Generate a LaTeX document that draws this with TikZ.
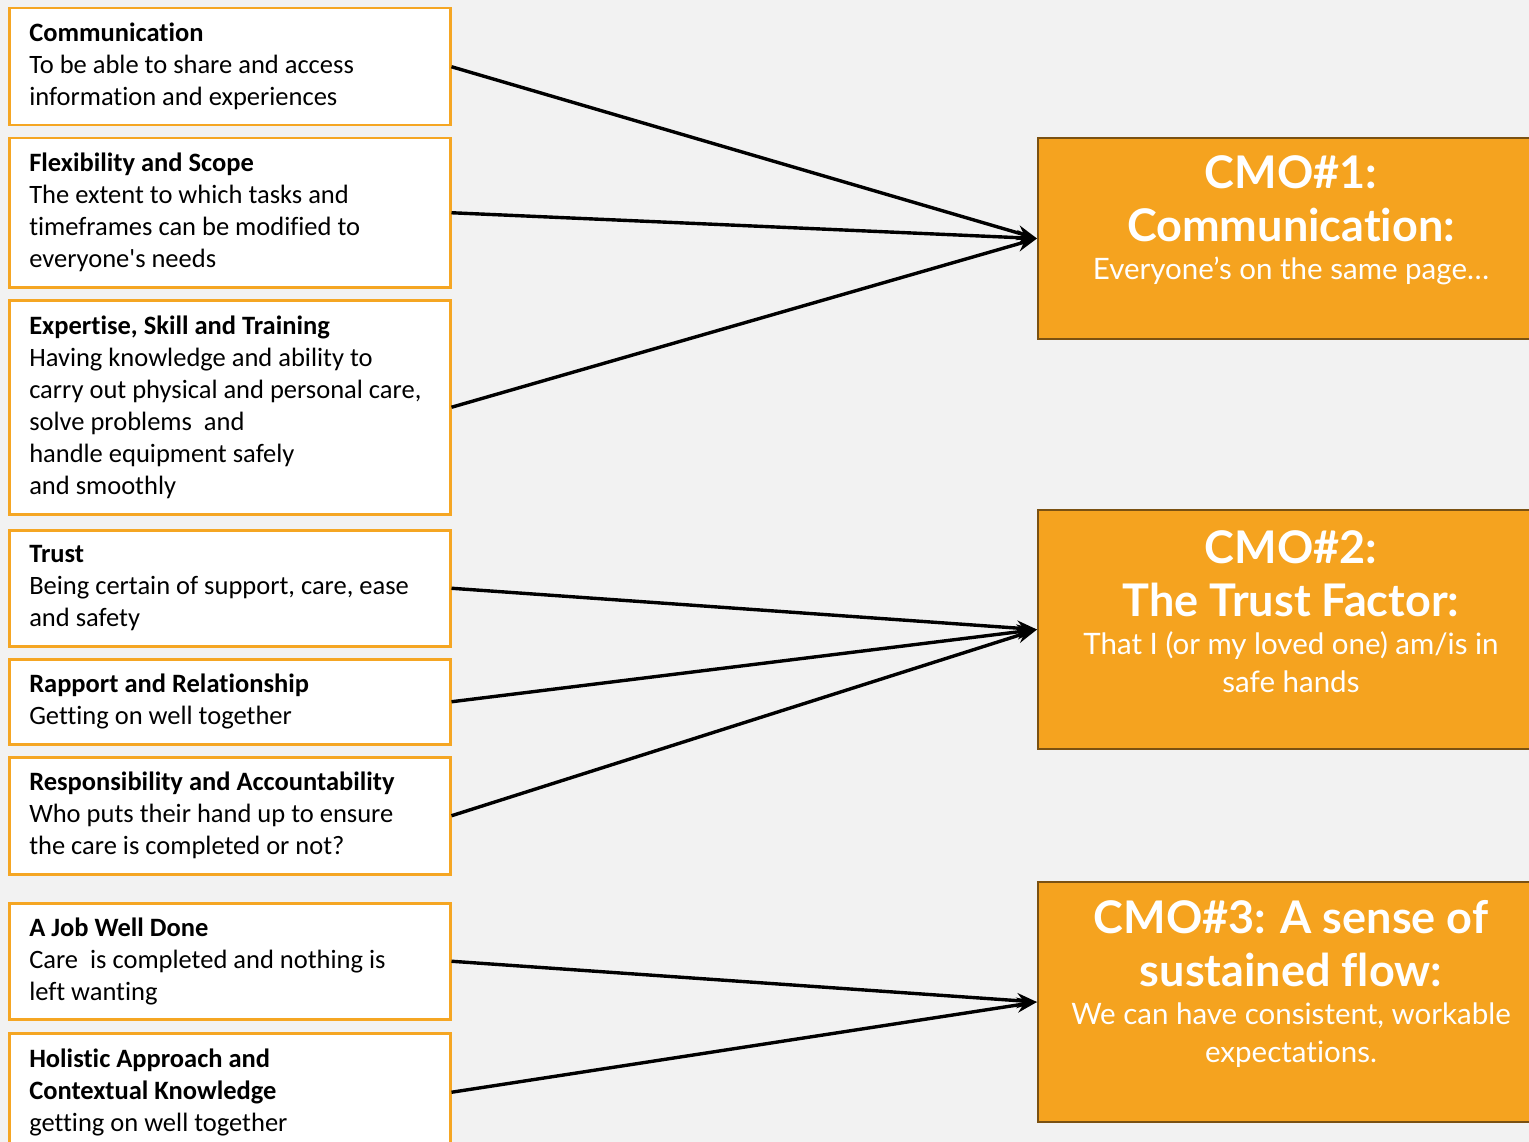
\documentclass[tikz,border=0pt]{standalone}
\usepackage{fontspec}
\setmainfont{Carlito}[Ligatures={NoCommon}]
\newfontfamily\cmofont{Lato}[Ligatures={NoCommon}]
\usetikzlibrary{arrows.meta}
\definecolor{pagebg}{HTML}{F2F2F2}
\definecolor{factorline}{HTML}{F5A623}
\definecolor{cmofill}{HTML}{F5A31F}
\definecolor{cmoline}{HTML}{7A5112}
\newcommand\cmosub{\mdseries\fontsize{29.5}{38}\selectfont}
\begin{document}
\begin{tikzpicture}[x=1pt,y=-1pt,
  factor/.style={draw=factorline, line width=2.5pt, fill=white, anchor=north west,
    minimum width=441pt, text width=401pt, inner xsep=20pt, inner ysep=0pt,
    font=\fontsize{26.5}{32}\selectfont,
    execute at begin node={\raggedright\spaceskip=0pt\xspaceskip=0pt}},
  cmobox/.style={draw=cmoline, line width=2pt, fill=cmofill, anchor=north west,
    minimum width=506pt},
  cmotext/.style={text=white, text width=490pt,
    font=\cmofont\fontsize{45}{53}\selectfont\bfseries,
    execute at begin node={\centering\spaceskip=0pt\xspaceskip=0pt}},
  conn/.style={line width=3.4pt, -{Stealth[length=20pt,width=15pt]}}]
\useasboundingbox (0,0) rectangle (1529,1142);
\fill[pagebg] (0,0) rectangle (1529,1142);
\clip (0,0) rectangle (1529,1142);

% contributing factors
\node[factor, minimum height=117pt] (b1) at (8,7)
  {\textbf{Communication}\\To be able to share and access\\information and experiences};
\node[factor, minimum height=149pt] (b2) at (8,137)
  {\textbf{Flexibility and Scope}\\The extent to which tasks and\\timeframes can be modified to\\everyone\textquotesingle s needs};
\node[factor, minimum height=214pt] (b3) at (8,299)
  {\textbf{Expertise, Skill and Training}\\Having knowledge and ability to\\carry out physical and personal care,\\solve problems~ and\\handle equipment safely\\and smoothly};
\node[factor, minimum height=116pt] (b4) at (8,529)
  {\textbf{Trust}\\Being certain of support, care, ease\\and safety};
\node[factor, minimum height=85pt] (b5) at (8,658)
  {\textbf{Rapport and Relationship}\\Getting on well together};
\node[factor, minimum height=117pt] (b6) at (8,756)
  {\textbf{Responsibility and Accountability}\\Who puts their hand up to ensure\\the care is completed or not?};
\node[factor, minimum height=116pt] (b7) at (8,902)
  {\textbf{A Job Well Done}\\Care~ is completed and nothing is\\left wanting};
\node[factor, minimum height=118pt] (b8) at (8,1032)
  {\textbf{Holistic Approach and}\\\textbf{Contextual Knowledge}\\getting on well together};

% outcome boxes
\node[cmobox, minimum height=201pt] (c1) at (1037,137) {};
\node[cmobox, minimum height=239pt] (c2) at (1037,509) {};
\node[cmobox, minimum height=240pt] (c3) at (1037,881) {};

\node[cmotext, yshift=18pt] (c1t) at (c1.center)
  {CMO\#1:\par Communication:\par
   {\cmosub Everyone’s on the same page…\par}};
\node[cmotext, yshift=18pt] (c2t) at (c2.center)
  {CMO\#2:\par The Trust Factor:\par
   {\cmosub That I (or my loved one) am/is in\par safe hands\par}};
\node[cmotext, yshift=18pt] (c3t) at (c3.center)
  {CMO\#3: A sense of\par sustained flow:\par
   {\cmosub We can have consistent, workable\par expectations.\par}};

% connectors
\draw[conn] (b1.east) -- (c1.west);
\draw[conn] (b2.east) -- (c1.west);
\draw[conn] (b3.east) -- (c1.west);
\draw[conn] (b4.east) -- (c2.west);
\draw[conn] (b5.east) -- (c2.west);
\draw[conn] (b6.east) -- (c2.west);
\draw[conn] (b7.east) -- (c3.west);
\draw[conn] (b8.east) -- (c3.west);
\end{tikzpicture}
\end{document}
